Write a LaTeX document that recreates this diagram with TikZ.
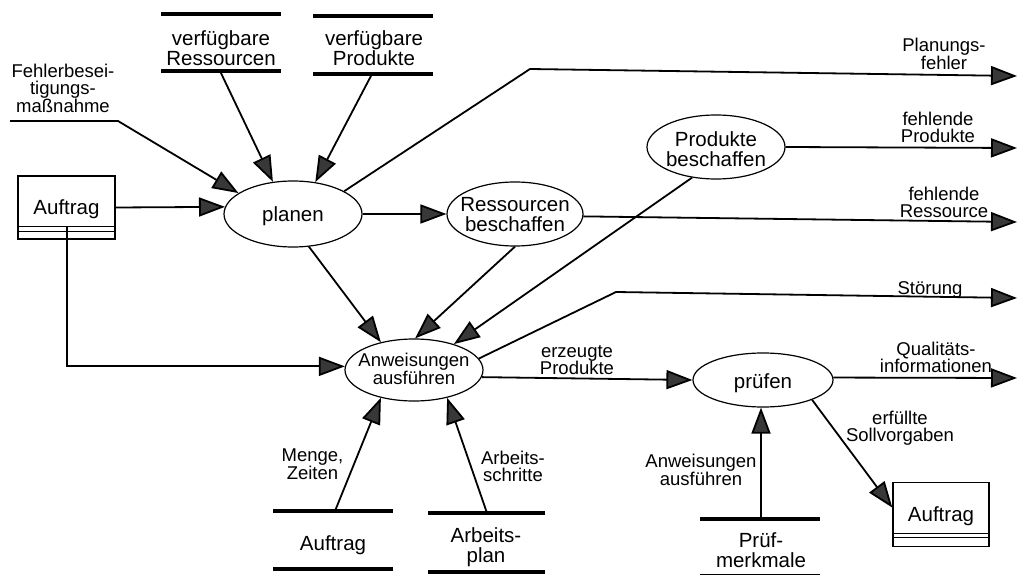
\documentclass[tikz,border=0pt]{standalone}
\usepackage{fontspec}
\setmainfont{Liberation Sans}
\usetikzlibrary{arrows.meta,shapes.geometric,calc}

\definecolor{tipgray}{gray}{0.22}
\newcommand\procfont{\fontsize{20.5}{20}\selectfont}
\newcommand\smallprocfont{\fontsize{18.5}{18}\selectfont}
\newcommand\lblfont{\fontsize{18.5}{17.5}\selectfont}

\begin{document}
\begin{tikzpicture}[x=1pt,y=-1pt,
  proc/.style={ellipse,draw,line width=1.2pt,inner sep=0pt},
  ptext/.style={inner sep=0pt,align=center,font=\procfont},
  lbl/.style={inner sep=0pt,align=center,font=\lblfont},
  storetext/.style={inner sep=0pt,align=center,font=\procfont},
  storeline/.style={line width=3.5pt},
  docbox/.style={draw,line width=1.3pt,inner sep=0pt,font=\procfont,text depth=0pt},
  docline/.style={line width=1.1pt},
  conn/.style={line width=1.8pt},
  flow/.style={conn,-{Triangle[length=26pt,width=19pt,fill=tipgray]}}
]
% canvas
\fill[white] (0,0) rectangle (1018,575);
\useasboundingbox (0,0) rectangle (1018,575);

% ---------- processes ----------
\node[proc,minimum width=138pt,minimum height=66pt] (planen) at (293,214) {};
\node[ptext] (planen-t) at (293,216) {planen};

\node[proc,minimum width=136pt,minimum height=64pt] (res) at (515,214) {};
\node[ptext] (res-t) at (515,214.5) {Ressourcen\\beschaffen};

\node[proc,minimum width=138pt,minimum height=64pt] (prod) at (716,147) {};
\node[ptext] (prod-t) at (716,149) {Produkte\\beschaffen};

\node[proc,minimum width=138pt,minimum height=62pt] (anw) at (414,370) {};
\node[ptext,font=\smallprocfont] (anw-t) at (414,368.5) {Anweisungen\\ausführen};

\node[proc,minimum width=140pt,minimum height=54pt] (prf) at (763,380) {};
\node[ptext] (prf-t) at (763,383) {prüfen};

% ---------- order documents ----------
\node[docbox,minimum width=97pt,minimum height=63pt] (auf1) at (66.5,207.5) {Auftrag};
\draw[docline] ($(auf1.south west)+(0,-13)$) -- ($(auf1.south east)+(0,-13)$)
               ($(auf1.south west)+(0,-8)$) -- ($(auf1.south east)+(0,-8)$);

\node[docbox,minimum width=96pt,minimum height=64pt] (auf2) at (941,514.5) {Auftrag};
\draw[docline] ($(auf2.south west)+(0,-14)$) -- ($(auf2.south east)+(0,-14)$)
               ($(auf2.south west)+(0,-10)$) -- ($(auf2.south east)+(0,-10)$);

% ---------- data stores ----------
\node[storetext] (vres) at (221,48.5) {verfügbare\\Ressourcen};
\draw[storeline] (161,14) -- (281,14) (161,71) -- (281,71);
\coordinate (vres-out) at (220,71);

\node[storetext] (vprod) at (374,48.5) {verfügbare\\Produkte};
\draw[storeline] (313,16) -- (433,16) (313,74) -- (433,74);
\coordinate (vprod-out) at (372,74);

\node[storetext] (aufs) at (333,545) {Auftrag};
\draw[storeline] (273,511) -- (393,511) (273,569) -- (393,569);
\coordinate (aufs-out) at (335,511);

\node[storetext] (ap) at (486,547) {Arbeits-\\plan};
\draw[storeline] (428,513) -- (545,513) (428,572) -- (545,572);
\coordinate (ap-out) at (487,513);

\node[storetext] (pm) at (761,550.5) {Prüf-\\merkmale};
\draw[storeline] (700,519) -- (820,519) (700,575.5) -- (820,575.5);
\coordinate (pm-out) at (761,519);

% ---------- free ends ----------
\coordinate (fehl-a) at (10,121);
\coordinate (fehl-b) at (118,121);
\coordinate (pf-knick) at (530,69);
\coordinate (pf-end) at (1017,76);
\coordinate (fp-end) at (1017,148);
\coordinate (fr-end) at (1017,222);
\coordinate (st-knick) at (616,292);
\coordinate (st-end) at (1017,298);
\coordinate (qi-end) at (1017,378);

% ---------- flows into planen ----------
\draw[flow] (fehl-a) -- (fehl-b) -- (planen.159);
\draw[flow] (vres-out) -- (planen.122);
\draw[flow] (vprod-out) -- (planen.55);
\draw[flow] (auf1.east) -- (planen.174);

% ---------- flows out of planen ----------
\draw[flow] (planen.24) -- (pf-knick) -- (pf-end);
\draw[flow] (planen.east) -- (res.west);
\draw[flow] (planen.-64) -- (anw.140);

% ---------- procurement ----------
\draw[flow] (res.-2) -- (fr-end);
\draw[flow] (res.south) -- (anw.88);
\draw[flow] (prod.east) -- (fp-end);
\draw[flow] (prod.-128) -- (anw.33);

% ---------- execution ----------
\draw[flow] ($(auf1.south)+(0.5,-13)$) |- (anw.177);
\draw[flow] (aufs-out) -- (anw.-140);
\draw[flow] (ap-out) -- (anw.-40);
\draw[flow] (anw.10) -- (st-knick) -- (st-end);
\draw[flow] (anw.-6) -- (prf.west);

% ---------- inspection ----------
\draw[flow] (pm-out) -- (pm-out |- prf.south);
\draw[flow] (prf.2) -- (qi-end);
\draw[flow] (prf.-22) -- (auf2.172);

% ---------- flow labels ----------
\node[lbl] (l-fehl) at (63,88) {Fehlerbesei-\\tigungs-\\maßnahme};
\node[lbl] (l-pf) at (944,54) {Planungs-\\fehler};
\node[lbl] (l-fp) at (938,127.5) {fehlende\\Produkte};
\node[lbl] (l-fr) at (944,202.5) {fehlende\\Ressource};
\node[lbl] (l-st) at (930,290) {Störung};
\node[lbl] (l-ep) at (577,360) {erzeugte\\Produkte};
\node[lbl] (l-qi) at (936,357.5) {Qualitäts-\\informationen};
\node[lbl] (l-mz) at (312.5,464) {Menge,\\Zeiten};
\node[lbl] (l-as) at (513,466.5) {Arbeits-\\schritte};
\node[lbl] (l-aa) at (701,470) {Anweisungen\\ausführen};
\node[lbl] (l-es) at (900,428) {erfüllte\\Sollvorgaben};
\end{tikzpicture}
\end{document}
